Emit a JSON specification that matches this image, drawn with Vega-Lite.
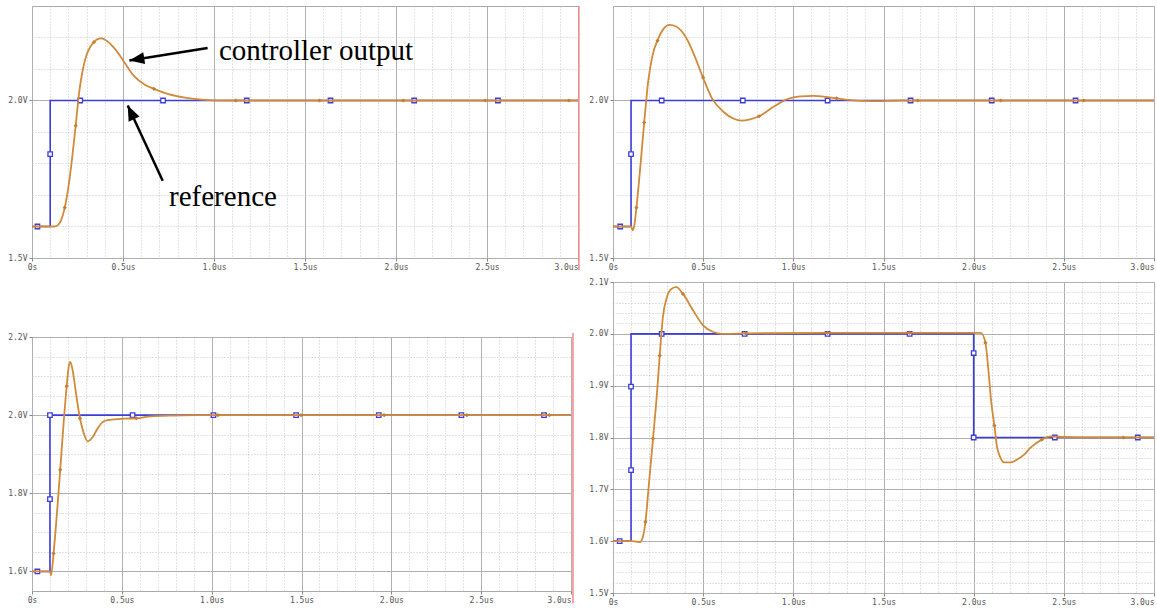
{
  "$schema": "https://vega.github.io/schema/vega-lite/v6.json",
  "padding": {"left": 7, "top": 4, "right": 0, "bottom": 0},
  "background": "white",
  "spacing": 5,
  "config": {
    "view": {"stroke": "#aaaaaa", "strokeWidth": 1},
    "axis": {"domain": false, "labelFont": "DejaVu Sans Mono", "labelFontSize": 8, "labelColor": "#555555", "tickSize": 3, "tickColor": "#888888", "labelPadding": 2, "labelOverlap": false, "labelFlush": false, "labelBound": false, "minExtent": 0, "grid": true, "gridWidth": 1}
  },
  "datasets": {
    "ref": [
      {"p": 1, "t": 0, "v": 1.6}, {"p": 1, "t": 0.1, "v": 1.6}, {"p": 1, "t": 0.1, "v": 2.0}, {"p": 1, "t": 3.0, "v": 2.0},
      {"p": 2, "t": 0, "v": 1.6}, {"p": 2, "t": 0.1, "v": 1.6}, {"p": 2, "t": 0.1, "v": 2.0}, {"p": 2, "t": 3.0, "v": 2.0},
      {"p": 3, "t": 0, "v": 1.6}, {"p": 3, "t": 0.1, "v": 1.6}, {"p": 3, "t": 0.1, "v": 2.0}, {"p": 3, "t": 3.0, "v": 2.0},
      {"p": 4, "t": 0, "v": 1.6}, {"p": 4, "t": 0.1, "v": 1.6}, {"p": 4, "t": 0.1, "v": 2.0}, {"p": 4, "t": 2.0, "v": 2.0}, {"p": 4, "t": 2.0, "v": 1.8}, {"p": 4, "t": 3.0, "v": 1.8}
    ],
    "refm": [
      {"p": 1, "t": 0.03, "v": 1.6}, {"p": 1, "t": 0.1, "v": 1.83}, {"p": 1, "t": 0.265, "v": 2.0}, {"p": 1, "t": 0.72, "v": 2.0}, {"p": 1, "t": 1.18, "v": 2.0}, {"p": 1, "t": 1.64, "v": 2.0}, {"p": 1, "t": 2.1, "v": 2.0}, {"p": 1, "t": 2.56, "v": 2.0},
      {"p": 2, "t": 0.04, "v": 1.6}, {"p": 2, "t": 0.1, "v": 1.83}, {"p": 2, "t": 0.27, "v": 2.0}, {"p": 2, "t": 0.72, "v": 2.0}, {"p": 2, "t": 1.19, "v": 2.0}, {"p": 2, "t": 1.65, "v": 2.0}, {"p": 2, "t": 2.1, "v": 2.0}, {"p": 2, "t": 2.565, "v": 2.0},
      {"p": 3, "t": 0.03, "v": 1.6}, {"p": 3, "t": 0.1, "v": 1.785}, {"p": 3, "t": 0.1, "v": 2.0}, {"p": 3, "t": 0.56, "v": 2.0}, {"p": 3, "t": 1.01, "v": 2.0}, {"p": 3, "t": 1.47, "v": 2.0}, {"p": 3, "t": 1.93, "v": 2.0}, {"p": 3, "t": 2.39, "v": 2.0}, {"p": 3, "t": 2.85, "v": 2.0},
      {"p": 4, "t": 0.037, "v": 1.6}, {"p": 4, "t": 0.1, "v": 1.737}, {"p": 4, "t": 0.1, "v": 1.898}, {"p": 4, "t": 0.27, "v": 2.0}, {"p": 4, "t": 0.73, "v": 2.0}, {"p": 4, "t": 1.19, "v": 2.0}, {"p": 4, "t": 1.645, "v": 2.0}, {"p": 4, "t": 2.0, "v": 1.963}, {"p": 4, "t": 2.0, "v": 1.8}, {"p": 4, "t": 2.45, "v": 1.8}, {"p": 4, "t": 2.91, "v": 1.8}
    ],
    "ctl": [
      {"p": 1, "t": 0, "v": 1.6}, {"p": 1, "t": 0.12, "v": 1.6}, {"p": 1, "t": 0.14, "v": 1.603}, {"p": 1, "t": 0.16, "v": 1.62}, {"p": 1, "t": 0.18, "v": 1.66}, {"p": 1, "t": 0.2, "v": 1.725}, {"p": 1, "t": 0.22, "v": 1.815}, {"p": 1, "t": 0.24, "v": 1.92}, {"p": 1, "t": 0.26, "v": 2.03}, {"p": 1, "t": 0.28, "v": 2.1}, {"p": 1, "t": 0.3, "v": 2.145}, {"p": 1, "t": 0.32, "v": 2.17}, {"p": 1, "t": 0.34, "v": 2.185}, {"p": 1, "t": 0.36, "v": 2.195}, {"p": 1, "t": 0.38, "v": 2.197}, {"p": 1, "t": 0.41, "v": 2.19}, {"p": 1, "t": 0.45, "v": 2.168}, {"p": 1, "t": 0.5, "v": 2.128}, {"p": 1, "t": 0.56, "v": 2.078}, {"p": 1, "t": 0.62, "v": 2.05}, {"p": 1, "t": 0.67, "v": 2.037}, {"p": 1, "t": 0.75, "v": 2.02}, {"p": 1, "t": 0.84, "v": 2.009}, {"p": 1, "t": 0.93, "v": 2.003}, {"p": 1, "t": 1.05, "v": 2.0}, {"p": 1, "t": 3.0, "v": 2.0},
      {"p": 2, "t": 0, "v": 1.6}, {"p": 2, "t": 0.1, "v": 1.6}, {"p": 2, "t": 0.11, "v": 1.588}, {"p": 2, "t": 0.12, "v": 1.61}, {"p": 2, "t": 0.13, "v": 1.66}, {"p": 2, "t": 0.15, "v": 1.78}, {"p": 2, "t": 0.173, "v": 1.93}, {"p": 2, "t": 0.195, "v": 2.06}, {"p": 2, "t": 0.22, "v": 2.145}, {"p": 2, "t": 0.246, "v": 2.19}, {"p": 2, "t": 0.277, "v": 2.225}, {"p": 2, "t": 0.315, "v": 2.24}, {"p": 2, "t": 0.35, "v": 2.235}, {"p": 2, "t": 0.405, "v": 2.2}, {"p": 2, "t": 0.45, "v": 2.145}, {"p": 2, "t": 0.494, "v": 2.08}, {"p": 2, "t": 0.55, "v": 2.006}, {"p": 2, "t": 0.61, "v": 1.965}, {"p": 2, "t": 0.67, "v": 1.942}, {"p": 2, "t": 0.71, "v": 1.936}, {"p": 2, "t": 0.76, "v": 1.94}, {"p": 2, "t": 0.81, "v": 1.95}, {"p": 2, "t": 0.89, "v": 1.98}, {"p": 2, "t": 0.96, "v": 2.003}, {"p": 2, "t": 1.04, "v": 2.013}, {"p": 2, "t": 1.11, "v": 2.015}, {"p": 2, "t": 1.2, "v": 2.01}, {"p": 2, "t": 1.29, "v": 2.003}, {"p": 2, "t": 1.44, "v": 1.998}, {"p": 2, "t": 1.6, "v": 2.0}, {"p": 2, "t": 3.0, "v": 2.0},
      {"p": 3, "t": 0, "v": 1.6}, {"p": 3, "t": 0.1, "v": 1.6}, {"p": 3, "t": 0.106, "v": 1.59}, {"p": 3, "t": 0.12, "v": 1.646}, {"p": 3, "t": 0.139, "v": 1.75}, {"p": 3, "t": 0.157, "v": 1.86}, {"p": 3, "t": 0.176, "v": 1.98}, {"p": 3, "t": 0.193, "v": 2.074}, {"p": 3, "t": 0.204, "v": 2.123}, {"p": 3, "t": 0.213, "v": 2.136}, {"p": 3, "t": 0.226, "v": 2.115}, {"p": 3, "t": 0.245, "v": 2.056}, {"p": 3, "t": 0.267, "v": 1.992}, {"p": 3, "t": 0.288, "v": 1.954}, {"p": 3, "t": 0.31, "v": 1.933}, {"p": 3, "t": 0.338, "v": 1.944}, {"p": 3, "t": 0.365, "v": 1.966}, {"p": 3, "t": 0.403, "v": 1.985}, {"p": 3, "t": 0.458, "v": 1.989}, {"p": 3, "t": 0.514, "v": 1.991}, {"p": 3, "t": 0.58, "v": 1.992}, {"p": 3, "t": 0.66, "v": 1.997}, {"p": 3, "t": 0.79, "v": 1.999}, {"p": 3, "t": 0.92, "v": 2.0}, {"p": 3, "t": 3.0, "v": 2.0},
      {"p": 4, "t": 0, "v": 1.6}, {"p": 4, "t": 0.11, "v": 1.6}, {"p": 4, "t": 0.149, "v": 1.598}, {"p": 4, "t": 0.167, "v": 1.61}, {"p": 4, "t": 0.18, "v": 1.637}, {"p": 4, "t": 0.198, "v": 1.706}, {"p": 4, "t": 0.222, "v": 1.798}, {"p": 4, "t": 0.244, "v": 1.886}, {"p": 4, "t": 0.259, "v": 1.958}, {"p": 4, "t": 0.277, "v": 2.033}, {"p": 4, "t": 0.3, "v": 2.072}, {"p": 4, "t": 0.325, "v": 2.087}, {"p": 4, "t": 0.351, "v": 2.09}, {"p": 4, "t": 0.388, "v": 2.077}, {"p": 4, "t": 0.443, "v": 2.046}, {"p": 4, "t": 0.498, "v": 2.017}, {"p": 4, "t": 0.553, "v": 2.004}, {"p": 4, "t": 0.608, "v": 2.0}, {"p": 4, "t": 0.75, "v": 2.001}, {"p": 4, "t": 1.2, "v": 2.002}, {"p": 4, "t": 2.014, "v": 2.002}, {"p": 4, "t": 2.04, "v": 2.002}, {"p": 4, "t": 2.065, "v": 1.983}, {"p": 4, "t": 2.083, "v": 1.925}, {"p": 4, "t": 2.096, "v": 1.873}, {"p": 4, "t": 2.115, "v": 1.823}, {"p": 4, "t": 2.129, "v": 1.783}, {"p": 4, "t": 2.147, "v": 1.762}, {"p": 4, "t": 2.169, "v": 1.752}, {"p": 4, "t": 2.206, "v": 1.752}, {"p": 4, "t": 2.243, "v": 1.758}, {"p": 4, "t": 2.28, "v": 1.767}, {"p": 4, "t": 2.317, "v": 1.781}, {"p": 4, "t": 2.378, "v": 1.796}, {"p": 4, "t": 2.428, "v": 1.802}, {"p": 4, "t": 2.5, "v": 1.801}, {"p": 4, "t": 2.65, "v": 1.8}, {"p": 4, "t": 3.0, "v": 1.8}
    ],
    "ctlm": [
      {"p": 1, "t": 0.18, "v": 1.66}, {"p": 1, "t": 0.24, "v": 1.92}, {"p": 1, "t": 0.34, "v": 2.185}, {"p": 1, "t": 0.67, "v": 2.037}, {"p": 1, "t": 1.12, "v": 2.0}, {"p": 1, "t": 1.58, "v": 2.0}, {"p": 1, "t": 2.04, "v": 2.0}, {"p": 1, "t": 2.49, "v": 2.0}, {"p": 1, "t": 2.95, "v": 2.0},
      {"p": 2, "t": 0.13, "v": 1.66}, {"p": 2, "t": 0.173, "v": 1.93}, {"p": 2, "t": 0.247, "v": 2.19}, {"p": 2, "t": 0.5, "v": 2.073}, {"p": 2, "t": 0.81, "v": 1.95}, {"p": 2, "t": 1.24, "v": 2.007}, {"p": 2, "t": 1.69, "v": 2.0}, {"p": 2, "t": 2.15, "v": 2.0}, {"p": 2, "t": 2.61, "v": 2.0},
      {"p": 3, "t": 0.12, "v": 1.646}, {"p": 3, "t": 0.157, "v": 1.86}, {"p": 3, "t": 0.193, "v": 2.074}, {"p": 3, "t": 0.267, "v": 1.992}, {"p": 3, "t": 0.58, "v": 1.992}, {"p": 3, "t": 1.035, "v": 2.0}, {"p": 3, "t": 1.497, "v": 2.0}, {"p": 3, "t": 1.96, "v": 2.0}, {"p": 3, "t": 2.42, "v": 2.0}, {"p": 3, "t": 2.88, "v": 2.0},
      {"p": 4, "t": 0.18, "v": 1.637}, {"p": 4, "t": 0.222, "v": 1.798}, {"p": 4, "t": 0.259, "v": 1.958}, {"p": 4, "t": 0.388, "v": 2.077}, {"p": 4, "t": 0.736, "v": 2.001}, {"p": 4, "t": 1.19, "v": 2.002}, {"p": 4, "t": 1.645, "v": 2.002}, {"p": 4, "t": 2.065, "v": 1.983}, {"p": 4, "t": 2.115, "v": 1.823}, {"p": 4, "t": 2.378, "v": 1.796}, {"p": 4, "t": 2.83, "v": 1.8}
    ],
    "red": [
      {"p": 1, "t": 3.005, "v": 2.3, "v2": 1.462},
      {"p": 3, "t": 3.011, "v": 2.21, "v2": 1.518}
    ],
    "arrows": [
      {"k": 1, "t": 0.965, "v": 2.167, "t2": 0.535, "v2": 2.127},
      {"k": 2, "t": 0.718, "v": 1.745, "t2": 0.526, "v2": 1.984}
    ],
    "heads": [
      {"k": 1, "t": 0.535, "v": 2.127},
      {"k": 2, "t": 0.526, "v": 1.984}
    ],
    "notes": [
      {"t": 1.027, "v": 2.127, "label": "controller output"},
      {"t": 0.753, "v": 1.666, "label": "reference"}
    ]
  },
  "hconcat": [
    {
      "spacing": 59,
      "vconcat": [
        {
          "width": 546, "height": 252,
          "encoding": {
            "x": {"field": "t", "type": "quantitative", "scale": {"domain": [0, 3], "nice": false, "zero": false},
              "axis": {"title": null, "values": [0,0.1,0.2,0.3,0.4,0.5,0.6,0.7,0.8,0.9,1,1.1,1.2,1.3,1.4,1.5,1.6,1.7,1.8,1.9,2,2.1,2.2,2.3,2.4,2.5,2.6,2.7,2.8,2.9,3],
                "gridColor": {"condition": {"test": "abs(datum.value*2 - round(datum.value*2)) < 0.001", "value": "#b0b0b0"}, "value": "#c4c4c4"},
                "gridDash": {"condition": {"test": "abs(datum.value*2 - round(datum.value*2)) < 0.001", "value": []}, "value": [1, 2]},
                "tickOpacity": {"condition": {"test": "abs(datum.value*2 - round(datum.value*2)) < 0.001", "value": 1}, "value": 0},
                "labelAlign": {"condition": {"test": "datum.value > 2.99", "value": "right"}, "value": "center"},
                "labelExpr": "abs(datum.value*2 - round(datum.value*2)) < 0.001 ? (datum.value == 0 ? '0s' : format(datum.value, '.1f') + 'us') : ''"}},
            "y": {"field": "v", "type": "quantitative", "scale": {"domain": [1.5, 2.3], "nice": false, "zero": false},
              "axis": {"title": null, "values": [1.5,1.6,1.7,1.8,1.9,2,2.1,2.2],
                "gridColor": {"condition": {"test": "abs(datum.value*2 - round(datum.value*2)) < 0.001", "value": "#b0b0b0"}, "value": "#c4c4c4"},
                "gridDash": {"condition": {"test": "abs(datum.value*2 - round(datum.value*2)) < 0.001", "value": []}, "value": [1, 2]},
                "tickOpacity": {"condition": {"test": "abs(datum.value*2 - round(datum.value*2)) < 0.001", "value": 1}, "value": 0},
                "labelExpr": "abs(datum.value*2 - round(datum.value*2)) < 0.001 ? format(datum.value, '.1f') + 'V' : ''"}}
          },
          "layer": [
            {"data": {"name": "ref"}, "transform": [{"filter": "datum.p == 1"}], "mark": {"type": "line", "color": "#3c3cd8", "strokeWidth": 1.6}, "encoding": {"order": {"value": null}}},
            {"data": {"name": "refm"}, "transform": [{"filter": "datum.p == 1"}], "mark": {"type": "point", "shape": "square", "size": 20, "fill": "white", "stroke": "#3c3cd8", "strokeWidth": 1.3, "opacity": 1}},
            {"data": {"name": "ctl"}, "transform": [{"filter": "datum.p == 1"}], "mark": {"type": "line", "color": "#d08a3a", "strokeWidth": 1.8, "interpolate": "monotone"}, "encoding": {"order": {"value": null}}},
            {"data": {"name": "ctlm"}, "transform": [{"filter": "datum.p == 1"}], "mark": {"type": "point", "shape": "diamond", "size": 18, "filled": true, "color": "#c87d30", "opacity": 1}},
            {"data": {"name": "red"}, "transform": [{"filter": "datum.p == 1"}], "mark": {"type": "rule", "color": "#f08a8a", "strokeWidth": 1.5}, "encoding": {"y2": {"field": "v2"}}},
            {"data": {"name": "arrows"}, "mark": {"type": "rule", "color": "black", "strokeWidth": 2.5}, "encoding": {"x2": {"field": "t2"}, "y2": {"field": "v2"}}},
            {"data": {"name": "heads"}, "transform": [{"filter": "datum.k == 1"}], "mark": {"type": "point", "shape": "M0,0L-0.4,1L0.4,1Z", "size": 900, "angle": 261, "filled": true, "color": "black", "opacity": 1}},
            {"data": {"name": "heads"}, "transform": [{"filter": "datum.k == 2"}], "mark": {"type": "point", "shape": "M0,0L-0.4,1L0.4,1Z", "size": 900, "angle": 335, "filled": true, "color": "black", "opacity": 1}},
            {"data": {"name": "notes"}, "mark": {"type": "text", "font": "Liberation Serif", "fontSize": 29, "align": "left", "baseline": "alphabetic", "color": "black"}, "encoding": {"text": {"field": "label"}}}
          ]
        },
        {
          "width": 539, "height": 254,
          "encoding": {
            "x": {"field": "t", "type": "quantitative", "scale": {"domain": [0, 3], "nice": false, "zero": false},
              "axis": {"title": null, "values": [0,0.1,0.2,0.3,0.4,0.5,0.6,0.7,0.8,0.9,1,1.1,1.2,1.3,1.4,1.5,1.6,1.7,1.8,1.9,2,2.1,2.2,2.3,2.4,2.5,2.6,2.7,2.8,2.9,3],
                "gridColor": {"condition": {"test": "abs(datum.value*2 - round(datum.value*2)) < 0.001", "value": "#b0b0b0"}, "value": "#c4c4c4"},
                "gridDash": {"condition": {"test": "abs(datum.value*2 - round(datum.value*2)) < 0.001", "value": []}, "value": [1, 2]},
                "tickOpacity": {"condition": {"test": "abs(datum.value*2 - round(datum.value*2)) < 0.001", "value": 1}, "value": 0},
                "labelAlign": {"condition": {"test": "datum.value > 2.99", "value": "right"}, "value": "center"},
                "labelExpr": "abs(datum.value*2 - round(datum.value*2)) < 0.001 ? (datum.value == 0 ? '0s' : format(datum.value, '.1f') + 'us') : ''"}},
            "y": {"field": "v", "type": "quantitative", "scale": {"domain": [1.55, 2.2], "nice": false, "zero": false},
              "axis": {"title": null, "values": [1.6,1.65,1.7,1.75,1.8,1.85,1.9,1.95,2,2.05,2.1,2.15,2.2],
                "gridColor": {"condition": {"test": "abs(datum.value*5 - round(datum.value*5)) < 0.001", "value": "#b0b0b0"}, "value": "#c4c4c4"},
                "gridDash": {"condition": {"test": "abs(datum.value*5 - round(datum.value*5)) < 0.001", "value": []}, "value": [1, 2]},
                "tickOpacity": {"condition": {"test": "abs(datum.value*5 - round(datum.value*5)) < 0.001", "value": 1}, "value": 0},
                "labelExpr": "abs(datum.value*5 - round(datum.value*5)) < 0.001 ? format(datum.value, '.1f') + 'V' : ''"}}
          },
          "layer": [
            {"data": {"name": "ref"}, "transform": [{"filter": "datum.p == 3"}], "mark": {"type": "line", "color": "#3c3cd8", "strokeWidth": 1.6}, "encoding": {"order": {"value": null}}},
            {"data": {"name": "refm"}, "transform": [{"filter": "datum.p == 3"}], "mark": {"type": "point", "shape": "square", "size": 20, "fill": "white", "stroke": "#3c3cd8", "strokeWidth": 1.3, "opacity": 1}},
            {"data": {"name": "ctl"}, "transform": [{"filter": "datum.p == 3"}], "mark": {"type": "line", "color": "#d08a3a", "strokeWidth": 1.8, "interpolate": "monotone"}, "encoding": {"order": {"value": null}}},
            {"data": {"name": "ctlm"}, "transform": [{"filter": "datum.p == 3"}], "mark": {"type": "point", "shape": "diamond", "size": 18, "filled": true, "color": "#c87d30", "opacity": 1}},
            {"data": {"name": "red"}, "transform": [{"filter": "datum.p == 3"}], "mark": {"type": "rule", "color": "#f08a8a", "strokeWidth": 1.5}, "encoding": {"y2": {"field": "v2"}}}
          ]
        }
      ]
    },
    {
      "spacing": 5,
      "vconcat": [
        {
          "width": 541, "height": 252,
          "encoding": {
            "x": {"field": "t", "type": "quantitative", "scale": {"domain": [0, 3], "nice": false, "zero": false},
              "axis": {"title": null, "values": [0,0.1,0.2,0.3,0.4,0.5,0.6,0.7,0.8,0.9,1,1.1,1.2,1.3,1.4,1.5,1.6,1.7,1.8,1.9,2,2.1,2.2,2.3,2.4,2.5,2.6,2.7,2.8,2.9,3],
                "gridColor": {"condition": {"test": "abs(datum.value*2 - round(datum.value*2)) < 0.001", "value": "#b0b0b0"}, "value": "#c4c4c4"},
                "gridDash": {"condition": {"test": "abs(datum.value*2 - round(datum.value*2)) < 0.001", "value": []}, "value": [1, 2]},
                "tickOpacity": {"condition": {"test": "abs(datum.value*2 - round(datum.value*2)) < 0.001", "value": 1}, "value": 0},
                "labelAlign": {"condition": {"test": "datum.value > 2.99", "value": "right"}, "value": "center"},
                "labelExpr": "abs(datum.value*2 - round(datum.value*2)) < 0.001 ? (datum.value == 0 ? '0s' : format(datum.value, '.1f') + 'us') : ''"}},
            "y": {"field": "v", "type": "quantitative", "scale": {"domain": [1.5, 2.3], "nice": false, "zero": false},
              "axis": {"title": null, "values": [1.5,1.6,1.7,1.8,1.9,2,2.1,2.2],
                "gridColor": {"condition": {"test": "abs(datum.value*2 - round(datum.value*2)) < 0.001", "value": "#b0b0b0"}, "value": "#c4c4c4"},
                "gridDash": {"condition": {"test": "abs(datum.value*2 - round(datum.value*2)) < 0.001", "value": []}, "value": [1, 2]},
                "tickOpacity": {"condition": {"test": "abs(datum.value*2 - round(datum.value*2)) < 0.001", "value": 1}, "value": 0},
                "labelExpr": "abs(datum.value*2 - round(datum.value*2)) < 0.001 ? format(datum.value, '.1f') + 'V' : ''"}}
          },
          "layer": [
            {"data": {"name": "ref"}, "transform": [{"filter": "datum.p == 2"}], "mark": {"type": "line", "color": "#3c3cd8", "strokeWidth": 1.6}, "encoding": {"order": {"value": null}}},
            {"data": {"name": "refm"}, "transform": [{"filter": "datum.p == 2"}], "mark": {"type": "point", "shape": "square", "size": 20, "fill": "white", "stroke": "#3c3cd8", "strokeWidth": 1.3, "opacity": 1}},
            {"data": {"name": "ctl"}, "transform": [{"filter": "datum.p == 2"}], "mark": {"type": "line", "color": "#d08a3a", "strokeWidth": 1.8, "interpolate": "monotone"}, "encoding": {"order": {"value": null}}},
            {"data": {"name": "ctlm"}, "transform": [{"filter": "datum.p == 2"}], "mark": {"type": "point", "shape": "diamond", "size": 18, "filled": true, "color": "#c87d30", "opacity": 1}}
          ]
        },
        {
          "width": 541, "height": 311,
          "encoding": {
            "x": {"field": "t", "type": "quantitative", "scale": {"domain": [0, 3], "nice": false, "zero": false},
              "axis": {"title": null, "values": [0,0.1,0.2,0.3,0.4,0.5,0.6,0.7,0.8,0.9,1,1.1,1.2,1.3,1.4,1.5,1.6,1.7,1.8,1.9,2,2.1,2.2,2.3,2.4,2.5,2.6,2.7,2.8,2.9,3],
                "gridColor": {"condition": {"test": "abs(datum.value*2 - round(datum.value*2)) < 0.001", "value": "#b0b0b0"}, "value": "#c4c4c4"},
                "gridDash": {"condition": {"test": "abs(datum.value*2 - round(datum.value*2)) < 0.001", "value": []}, "value": [1, 2]},
                "tickOpacity": {"condition": {"test": "abs(datum.value*2 - round(datum.value*2)) < 0.001", "value": 1}, "value": 0},
                "labelAlign": {"condition": {"test": "datum.value > 2.99", "value": "right"}, "value": "center"},
                "labelExpr": "abs(datum.value*2 - round(datum.value*2)) < 0.001 ? (datum.value == 0 ? '0s' : format(datum.value, '.1f') + 'us') : ''"}},
            "y": {"field": "v", "type": "quantitative", "scale": {"domain": [1.5, 2.1], "nice": false, "zero": false},
              "axis": {"title": null, "values": [1.5,1.52,1.54,1.56,1.58,1.6,1.62,1.64,1.66,1.68,1.7,1.72,1.74,1.76,1.78,1.8,1.82,1.84,1.86,1.88,1.9,1.92,1.94,1.96,1.98,2,2.02,2.04,2.06,2.08,2.1],
                "gridColor": {"condition": {"test": "abs(datum.value*10 - round(datum.value*10)) < 0.001", "value": "#b0b0b0"}, "value": "#c4c4c4"},
                "gridDash": {"condition": {"test": "abs(datum.value*10 - round(datum.value*10)) < 0.001", "value": []}, "value": [1, 2]},
                "tickOpacity": {"condition": {"test": "abs(datum.value*10 - round(datum.value*10)) < 0.001", "value": 1}, "value": 0},
                "labelExpr": "abs(datum.value*10 - round(datum.value*10)) < 0.001 ? format(datum.value, '.1f') + 'V' : ''"}}
          },
          "layer": [
            {"data": {"name": "ref"}, "transform": [{"filter": "datum.p == 4"}], "mark": {"type": "line", "color": "#3c3cd8", "strokeWidth": 1.6}, "encoding": {"order": {"value": null}}},
            {"data": {"name": "refm"}, "transform": [{"filter": "datum.p == 4"}], "mark": {"type": "point", "shape": "square", "size": 20, "fill": "white", "stroke": "#3c3cd8", "strokeWidth": 1.3, "opacity": 1}},
            {"data": {"name": "ctl"}, "transform": [{"filter": "datum.p == 4"}], "mark": {"type": "line", "color": "#d08a3a", "strokeWidth": 1.8, "interpolate": "monotone"}, "encoding": {"order": {"value": null}}},
            {"data": {"name": "ctlm"}, "transform": [{"filter": "datum.p == 4"}], "mark": {"type": "point", "shape": "diamond", "size": 18, "filled": true, "color": "#c87d30", "opacity": 1}}
          ]
        }
      ]
    }
  ]
}
